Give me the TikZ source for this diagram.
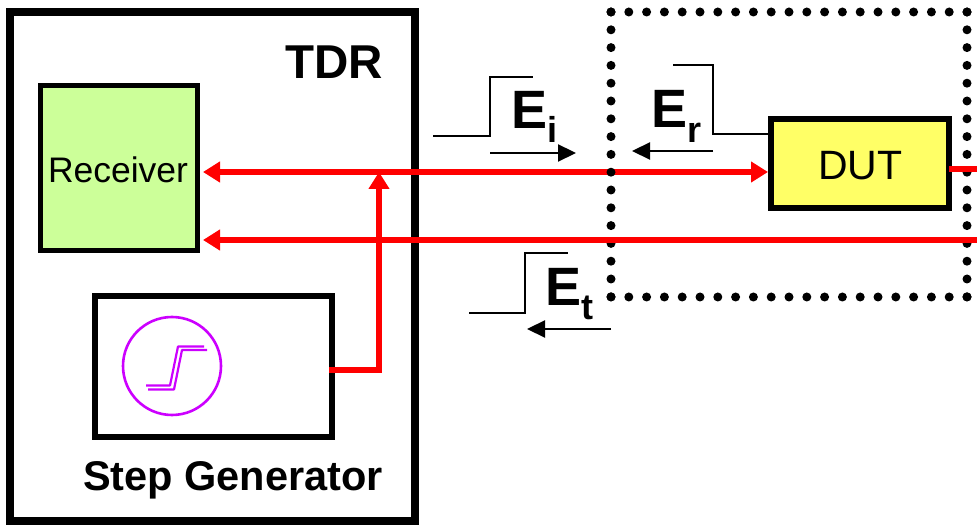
\documentclass[tikz,border=0pt]{standalone}
\usepackage{fontspec}
\setmainfont{Liberation Sans}
\usetikzlibrary{arrows.meta}
\definecolor{rcvgreen}{HTML}{CCFF99}
\definecolor{dutyellow}{HTML}{FFFF66}
\definecolor{stepmag}{HTML}{CC00FF}
\tikzset{
  box/.style={draw=black,inner sep=0pt,outer sep=0pt,anchor=north west},
  txt/.style={inner sep=0pt,outer sep=0pt,anchor=base west,text=black},
  redline/.style={draw=red,line width=6.5pt},
  redtip/.style={-{Triangle[length=17pt,width=20pt]}},
  redtips/.style={{Triangle[length=17pt,width=20pt]}-{Triangle[length=17pt,width=20pt]}},
  thinline/.style={draw=black,line width=2.2pt,line join=miter},
  blackarrow/.style={draw=black,line width=2.2pt,-{Triangle[length=18pt,width=17pt]}},
  dotline/.style={draw=black,line width=9pt,line cap=round,dash pattern=on 0pt off 17.8pt},
}
\begin{document}
\begin{tikzpicture}[x=1pt,y=-1pt]
\useasboundingbox (0,0) rectangle (977,526);
% boxes
\node[box,line width=8.5pt,minimum width=405pt,minimum height=509pt] (tdr) at (10,12) {};
\node[box,line width=5pt,fill=rcvgreen,minimum width=157pt,minimum height=165pt] (rcv) at (40,86) {};
\node[box,line width=6pt,minimum width=237pt,minimum height=141pt] (gen) at (95,296) {};
\node[box,line width=6pt,fill=dutyellow,minimum width=178pt,minimum height=89pt] (dut) at (771,119) {};
% free points
\coordinate (rcvA) at (203,172);
\coordinate (dutA) at (768,172);
\coordinate (rcvB) at (203,240);
\coordinate (rightB) at (977,240);
\coordinate (dutOut) at (949,169);
\coordinate (rightA) at (977,169);
\coordinate (genOut) at (329,370);
\coordinate (genCorner) at (379,370);
\coordinate (junction) at (379,172);
% upper red line and feed
\draw[redline,redtips] (rcvA) -- (dutA);
\draw[redline,redtip,line join=miter] (genOut) -- (genCorner) -- (junction);
% dotted enclosure
\coordinate (dotNW) at (611,12);
\coordinate (dotNE) at (967,12);
\coordinate (dotSE) at (967,297);
\coordinate (dotSW) at (611,297);
\draw[dotline] (dotNE) -- (dotNW);
\draw[dotline] (dotNW) -- (dotSW);
\draw[dotline] (dotSE) -- (dotSW);
\draw[dotline] (dotNE) -- (dotSE);
% lower red lines
\draw[redline,redtip] (rightB) -- (rcvB);
\draw[redline] (dutOut) -- (rightA);
% step generator symbol
\node[draw=stepmag,line width=2.6pt,circle,inner sep=0pt,outer sep=0pt,minimum size=98pt] (sym) at (172,366) {};
\draw[draw=stepmag,line width=2.2pt,line join=round] (146,385.5) -- (170,385.5) -- (178,346.5) -- (204,346.5);
\draw[draw=stepmag,line width=2.2pt,line join=round] (148,389.5) -- (174,389.5) -- (182,350) -- (207,350);
% incident step
\coordinate (ei1) at (433,136);
\draw[thinline] (ei1) -- (490,136) -- (490,77) -- (533,77);
\coordinate (eia) at (490,153);
\coordinate (eib) at (576,153);
\draw[blackarrow] (eia) -- (eib);
% reflected step
\coordinate (er1) at (673,65);
\draw[thinline] (er1) -- (713,65) -- (713,134) -- (dut.west |- 0,134);
\coordinate (era) at (713,151);
\coordinate (erb) at (632,151);
\draw[blackarrow] (era) -- (erb);
% transmitted step
\coordinate (et1) at (469,313);
\draw[thinline] (et1) -- (525,313) -- (525,253) -- (568,253);
\coordinate (eta) at (611,329);
\coordinate (etb) at (527,329);
\draw[blackarrow] (eta) -- (etb);
% texts
\node[txt,font=\fontsize{47.5}{47.5}\selectfont\bfseries] (ttdr) at (285,79) {TDR};
\node[txt,font=\fontsize{35.5}{35.5}\selectfont] (trcv) at (48,183) {Receiver};
\node[txt,font=\fontsize{41.5}{41.5}\selectfont\bfseries] (tgen) at (83,490) {Step Generator};
\node[txt,font=\fontsize{41}{41}\selectfont] (tdut) at (818,180) {DUT};
\node[txt,font=\fontsize{54}{54}\selectfont\bfseries] (tei) at (511,129) {E};
\node[txt,font=\fontsize{36}{36}\selectfont\bfseries] (tis) at (547.5,143) {i};
\node[txt,font=\fontsize{54}{54}\selectfont\bfseries] (ter) at (651,128) {E};
\node[txt,font=\fontsize{36}{36}\selectfont\bfseries] (trs) at (687.5,143) {r};
\node[txt,font=\fontsize{54}{54}\selectfont\bfseries] (tet) at (545,306) {E};
\node[txt,font=\fontsize{36}{36}\selectfont\bfseries] (tts) at (581.5,320) {t};
\end{tikzpicture}
\end{document}
